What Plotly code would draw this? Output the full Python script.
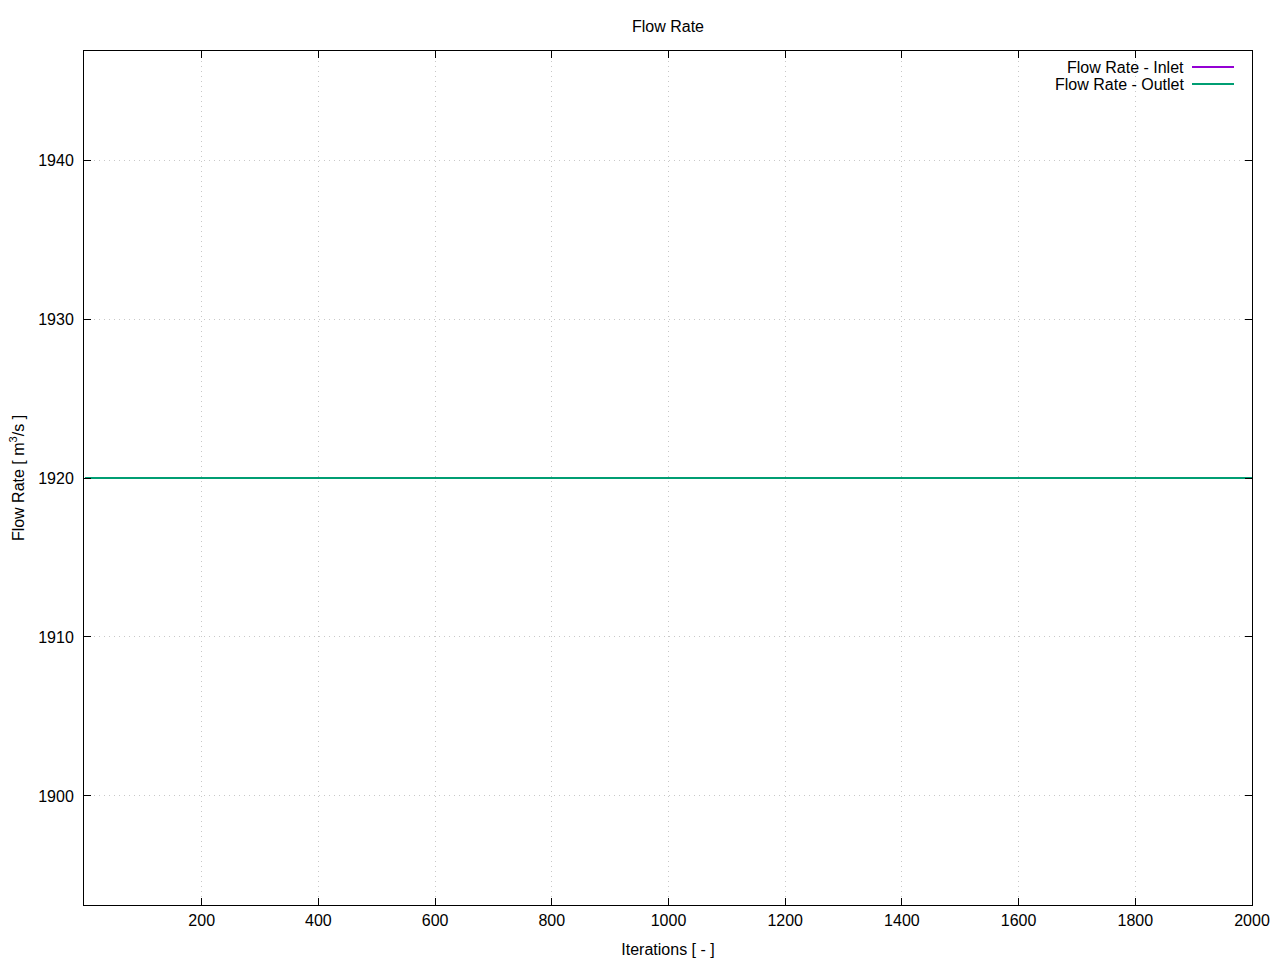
import plotly.graph_objects as go

# Data
iterations = [0, 250, 500, 750, 1000, 1250, 1500, 1750, 2000]
flow_inlet = [1920, 1920, 1920, 1920, 1920, 1920, 1920, 1920, 1920]
flow_outlet = [1920, 1920, 1920, 1920, 1920, 1920, 1920, 1920, 1920]
series_names = ["Flow Rate - Inlet", "Flow Rate - Outlet"]
series_colors = ["#9400d3", "#009e73"]
x_ticks = [200, 400, 600, 800, 1000, 1200, 1400, 1600, 1800, 2000]
y_ticks = [1900, 1910, 1920, 1930, 1940]

FONT = "Liberation Sans, Arial, sans-serif"
FS = 16

fig = go.Figure()
fig.add_trace(go.Scatter(x=iterations, y=flow_inlet, mode="lines", name=series_names[0],
                         line=dict(color=series_colors[0], width=2), showlegend=False))
fig.add_trace(go.Scatter(x=iterations, y=flow_outlet, mode="lines", name=series_names[1],
                         line=dict(color=series_colors[1], width=2), showlegend=False))

W, H = 1280, 960
L, T, R, B = 84, 51, 28, 55
pw, ph = W - L - R, H - T - B

def px(x):
    return (x - L) / pw

def py(y):
    return (H - B - y) / ph

# Manual gnuplot-style legend (text right, sample line right)
for i, (name, col) in enumerate(zip(series_names, series_colors)):
    yy = 67 + 17 * i
    fig.add_annotation(x=px(1186), y=py(yy), xref="paper", yref="paper", text=name,
                       showarrow=False, xanchor="right", yanchor="middle",
                       font=dict(family=FONT, size=FS, color="black"))
    fig.add_shape(type="line", xref="paper", yref="paper", x0=px(1192), x1=px(1234),
                  y0=py(yy), y1=py(yy), line=dict(color=col, width=2))

axis_common = dict(
    showline=True, linecolor="black", linewidth=1, mirror="ticks",
    ticks="inside", ticklen=7, tickcolor="black",
    showgrid=True, gridcolor="#c8c8c8", griddash="1px,4px", gridwidth=1,
    zeroline=False, tickfont=dict(family=FONT, size=FS, color="black"),
)

fig.update_layout(
    width=W, height=H,
    margin=dict(l=L, r=R, t=T, b=B, autoexpand=False),
    plot_bgcolor="white", paper_bgcolor="white",
    title=dict(text="Flow Rate", x=668 / W, xanchor="center", y=1 - 26 / H, yanchor="middle",
               font=dict(family=FONT, size=FS, color="black")),
    xaxis=dict(range=[-1.7, 2000], tickmode="array", tickvals=x_ticks,
               ticktext=[str(v) for v in x_ticks], ticklabelstandoff=1,
               title=dict(text="Iterations [ - ]", font=dict(family=FONT, size=FS, color="black"), standoff=15),
               **axis_common),
    yaxis=dict(range=[1893.14, 1946.86], tickmode="array", tickvals=y_ticks,
               ticktext=[str(v) for v in y_ticks], ticklabelstandoff=6,
               title=dict(text="Flow Rate [ m<sup>3</sup>/s ]", font=dict(family=FONT, size=FS, color="black"), standoff=9),
               **axis_common),
)

fig.write_html(
    "out.html",
    config={"displayModeBar": False},
    post_script="document.body.style.margin='0';document.body.style.overflow='hidden';",
)
